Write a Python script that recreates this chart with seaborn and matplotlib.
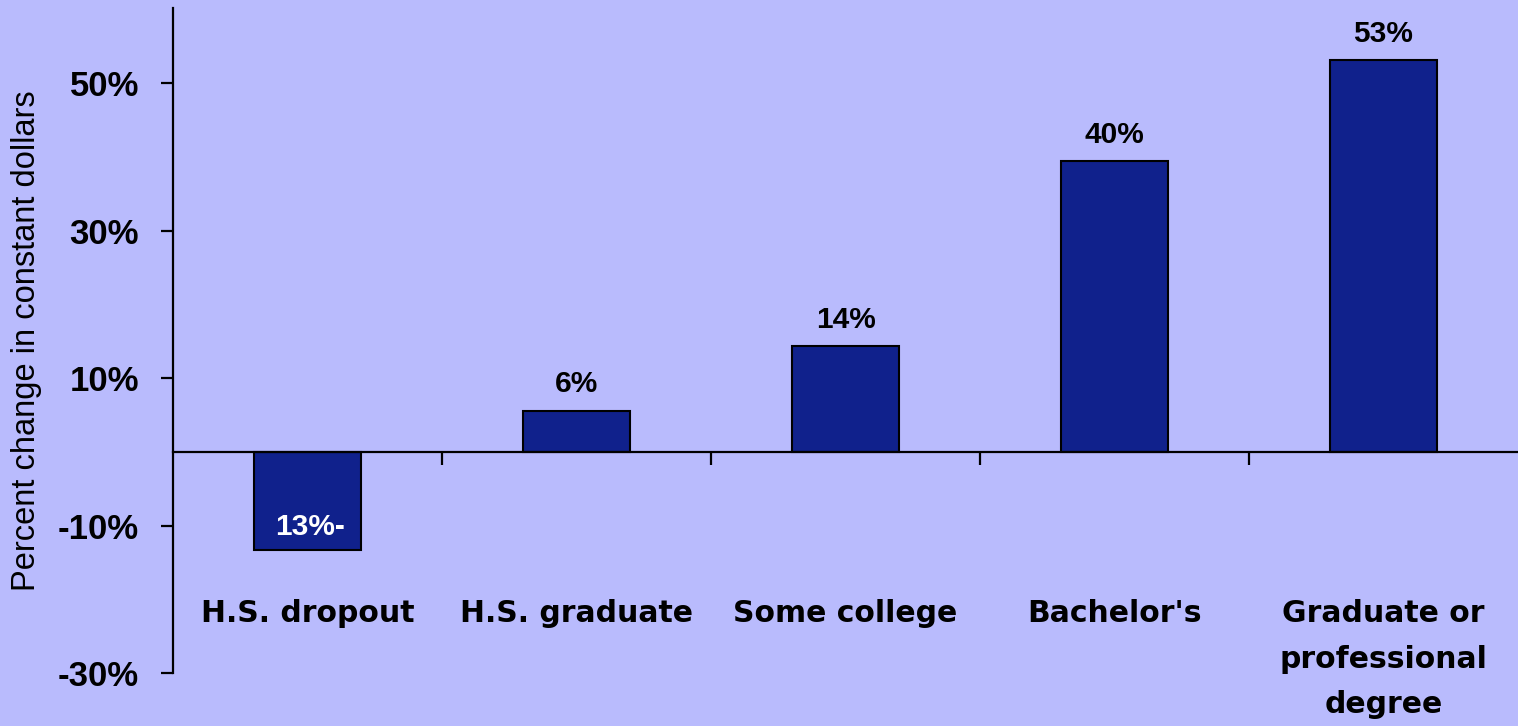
import matplotlib
matplotlib.use("Agg")
import matplotlib.pyplot as plt
import seaborn as sns
from matplotlib.ticker import FixedLocator

# Change in earnings by education level, percent in constant dollars
categories = ["H.S. dropout", "H.S. graduate", "Some college", "Bachelor's",
              "Graduate or\nprofessional\ndegree"]
values = [-13.3, 5.6, 14.3, 39.5, 53.2]
y_ticks = [-30, -10, 10, 30, 50]
y_tick_labels = ["-30%", "-10%", "10%", "30%", "50%"]
y_label = "Percent change in constant dollars"

BG = "#B9BBFD"
BAR = "#10218C"

sns.set_theme(style="white")
plt.rcParams["font.family"] = ["Liberation Sans", "DejaVu Sans"]
plt.rcParams["text.color"] = "black"
plt.rcParams["xtick.color"] = "black"
plt.rcParams["ytick.color"] = "black"
plt.rcParams["axes.labelcolor"] = "black"

fig = plt.figure(figsize=(15.18, 7.26), dpi=100, facecolor=BG)
W, H = 1518, 726
ax = fig.add_axes([173 / W, 53 / H, (W - 173) / W, (673 - 8) / H])
ax.set_facecolor(BG)

sns.barplot(x=categories, y=values, color=BAR, saturation=1, width=0.4,
            edgecolor="black", linewidth=1.5, ax=ax)

ax.set_ylim(-30, 60.2)
ax.set_xlim(-0.5, len(categories) - 0.5)

# Spines: left axis and a horizontal axis line at zero
for side in ("top", "right"):
    ax.spines[side].set_visible(False)
ax.spines["left"].set_linewidth(1.6)
ax.spines["left"].set_color("black")
ax.spines["bottom"].set_position(("data", 0))
ax.spines["bottom"].set_linewidth(1.6)
ax.spines["bottom"].set_color("black")

# Y axis ticks
ax.set_yticks(y_ticks)
ax.set_yticklabels(y_tick_labels, fontsize=25, fontweight="bold",
                   family=["Liberation Sans", "DejaVu Sans"], color="black")
ax.tick_params(axis="y", direction="out", length=8.5, width=1.6,
               color="black", labelcolor="black", pad=16, left=True)

# X axis: boundary ticks at the zero line, category names placed low
ax.xaxis.set_minor_locator(FixedLocator([i + 0.5 for i in range(len(categories) - 1)]))
ax.tick_params(axis="x", which="minor", direction="out", length=9.5,
               width=1.6, color="black", bottom=True)
ax.tick_params(axis="x", which="major", length=0, pad=106, labelcolor="black")
ax.set_xticks(range(len(categories)))
ax.set_xticklabels(categories, fontsize=21.5, fontweight="bold",
                   family=["DejaVu Sans"], linespacing=1.72, va="top",
                   color="black")
ax.set_xlabel("")
ax.set_ylabel("")

# Value labels
for i, v in enumerate(values):
    if v >= 0:
        ax.annotate(f"{v:.0f}%", (i, v), xytext=(0, 13), textcoords="offset points",
                    ha="center", va="baseline", fontsize=21.5, fontweight="bold",
                    color="black")
    else:
        ax.annotate(f"{abs(v):.0f}%-", (i, v), xytext=(2, 11), textcoords="offset points",
                    ha="center", va="baseline", fontsize=21.5, fontweight="bold",
                    color="white")

fig.text(27 / W, 1 - 341 / H, y_label, rotation=90, ha="center", va="center",
         fontsize=23.5, color="black")

fig.savefig("out.png", dpi=100, facecolor=BG)
